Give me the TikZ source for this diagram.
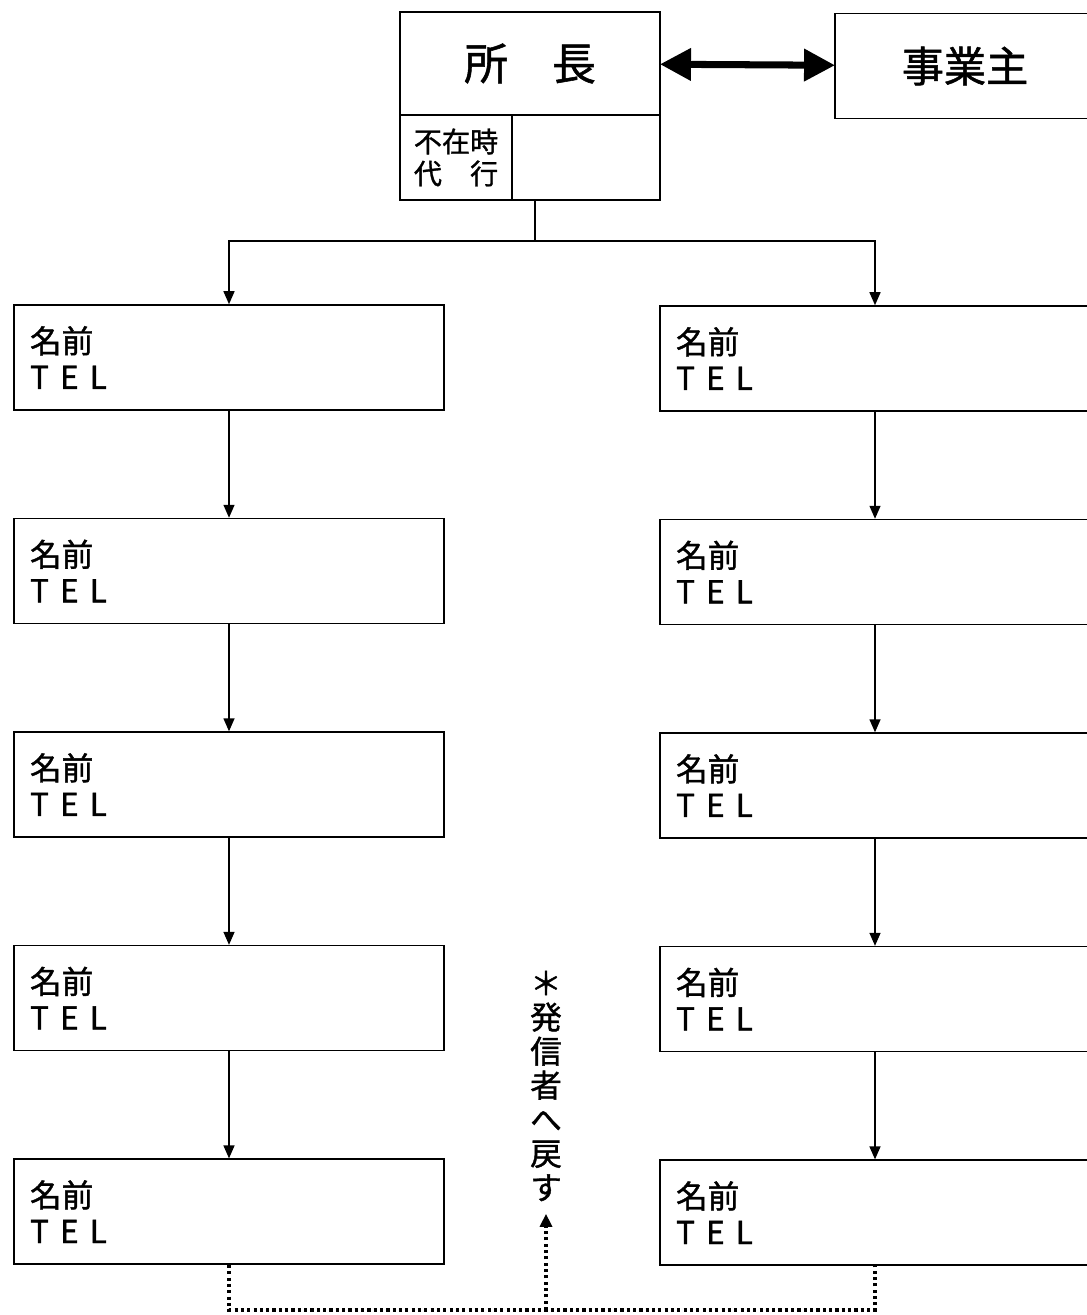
\documentclass[tikz,border=0pt]{standalone}
\usepackage{fontspec}
\setmainfont{Noto Sans CJK JP}[FakeBold=1.2]
\newfontfamily\telfont[LetterSpace=35, FakeBold=1.2]{Noto Sans CJK JP}
\usetikzlibrary{arrows.meta, positioning}

\begin{document}
\begin{tikzpicture}[x=0.02cm, y=-0.02cm]
    % Define styles
    \tikzstyle{person} = [rectangle, draw=black, line width=0.9pt, minimum width=8.6cm, minimum height=2.1cm, text width=7.96cm, inner xsep=0.32cm, align=left, font=\fontsize{18}{20.5}\selectfont]
    \tikzstyle{head} = [rectangle, draw=black, line width=0.9pt, outer sep=0pt, align=center]
    \tikzstyle{flow} = [-{Triangle[length=0.26cm, width=0.22cm]}, line width=0.8pt]
    \tikzstyle{both} = [{Triangle[length=0.62cm, width=0.62cm]}-{Triangle[length=0.62cm, width=0.62cm]}, line width=4pt]
    \tikzstyle{retline} = [line width=1.8pt, dash pattern=on 1.8pt off 1.8pt]

    \useasboundingbox (0,0) rectangle (1087,1315);
    \clip (0,0) rectangle (1087,1315);

    % Top: chief and owner
    \node[head, minimum width=5.2cm, minimum height=2.06cm, font=\fontsize{25}{28}\selectfont] (chief) at (530,63.5) {所　長};
    \node[head, minimum width=2.24cm, minimum height=1.7cm, font=\fontsize{16}{18.2}\selectfont, anchor=north west] (absent) at (chief.south west) {不在時\\代　行};
    \node[head, minimum width=2.96cm, minimum height=1.7cm, anchor=north west] (deputy) at (absent.north east) {};
    \node[head, minimum width=5.2cm, minimum height=2.1cm, font=\fontsize{24}{27}\selectfont] (owner) at (965,66) {事業主};
    \draw[both] (chief) -- (owner);

    % Left column
    \node[person] (L1) at (229,357.5) {名前\\{\telfont TEL}};
    \node[person, below=2.14cm of L1] (L2) {名前\\{\telfont TEL}};
    \node[person, below=2.14cm of L2] (L3) {名前\\{\telfont TEL}};
    \node[person, below=2.14cm of L3] (L4) {名前\\{\telfont TEL}};
    \node[person, below=2.14cm of L4] (L5) {名前\\{\telfont TEL}};

    % Right column
    \node[person] (R1) at (875,358.5) {名前\\{\telfont TEL}};
    \node[person, below=2.14cm of R1] (R2) {名前\\{\telfont TEL}};
    \node[person, below=2.14cm of R2] (R3) {名前\\{\telfont TEL}};
    \node[person, below=2.14cm of R3] (R4) {名前\\{\telfont TEL}};
    \node[person, below=2.14cm of R4] (R5) {名前\\{\telfont TEL}};

    % Return note
    \node[align=center, inner sep=7pt, font=\fontsize{18}{19.4}\selectfont] (msg) at (546,1086) {＊\\発\\信\\者\\へ\\戻\\す};

    % Arrows
    \coordinate (stem) at (535,200);
    \coordinate (split) at (535,241);
    \draw[line width=0.8pt] (stem) -- (split);
    \draw[flow] (split) -| (L1.north);
    \draw[flow] (split) -| (R1.north);
    \draw[flow] (L1) -- (L2);
    \draw[flow] (L2) -- (L3);
    \draw[flow] (L3) -- (L4);
    \draw[flow] (L4) -- (L5);
    \draw[flow] (R1) -- (R2);
    \draw[flow] (R2) -- (R3);
    \draw[flow] (R3) -- (R4);
    \draw[flow] (R4) -- (R5);

    % Dotted return line
    \coordinate (loop) at (546,1310);
    \draw[retline] (L5.south) |- (loop) -| (R5.south);
    \draw[retline, -{Triangle[length=0.26cm, width=0.24cm]}] (loop) -- (msg.south);

\end{tikzpicture}
\end{document}
